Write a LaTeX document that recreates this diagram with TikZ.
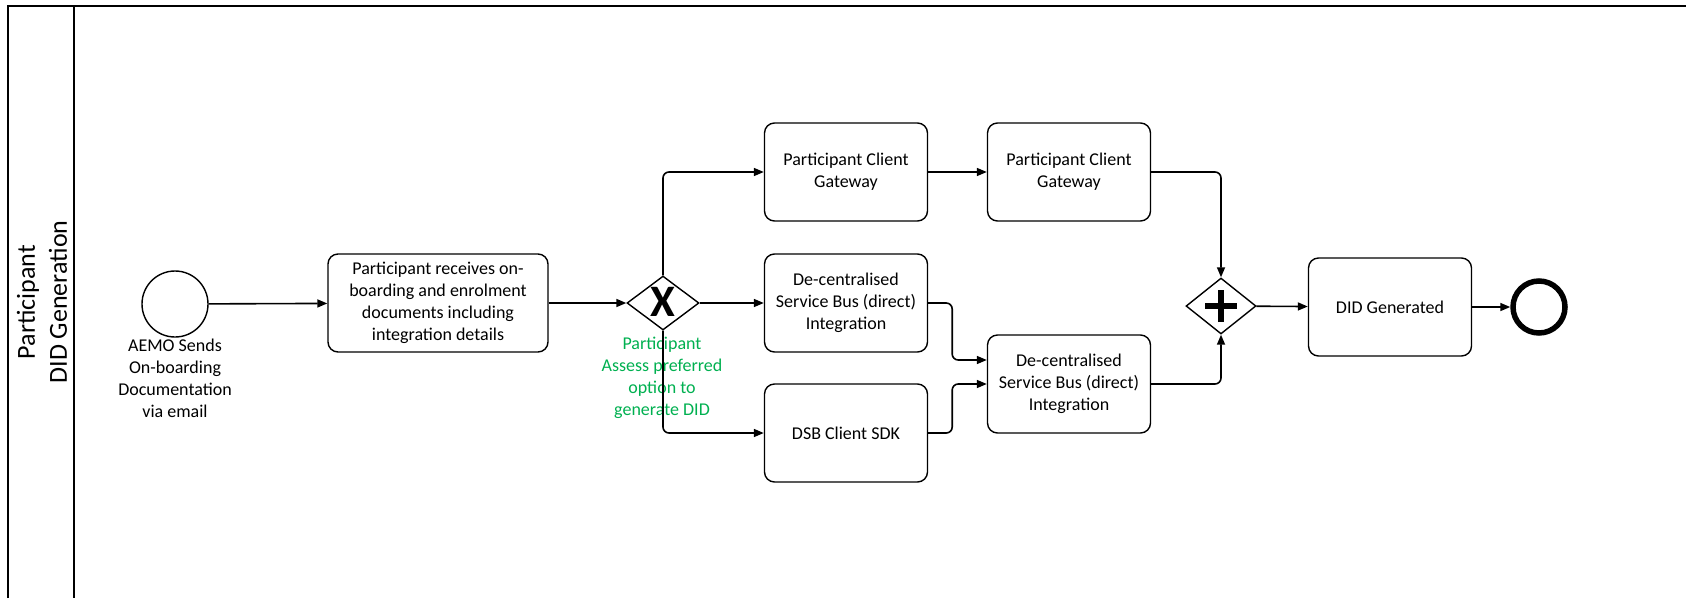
\documentclass[tikz,border=0pt]{standalone}
\usepackage{fontspec}
\setmainfont{Carlito}
\usetikzlibrary{shapes.geometric,arrows.meta}
\definecolor{notegreen}{RGB}{0,176,80}

\begin{document}
\begin{tikzpicture}[x=1pt, y=-1pt, >={Triangle[length=10pt,width=8pt]}, line width=1.6pt]
\tikzset{
  task/.style={
    draw, rectangle, rounded corners=10pt, line width=1.4pt,
    minimum width=163pt, minimum height=98pt,
    align=center, font=\fontsize{18}{22}\selectfont
  },
  gate/.style={
    draw, diamond, line width=1.4pt, inner sep=0pt,
    minimum width=72pt, minimum height=54pt
  },
  flow/.style={->, rounded corners=6pt}
}
\useasboundingbox (0,0) rectangle (1686,598);

% Pool and lane
\draw[line width=2pt] (8,598) -- (8,6) -- (1686,6);
\draw[line width=2pt] (74,6) -- (74,598);
\node[rotate=90, align=center, font=\fontsize{26}{32}\selectfont] (lane) at (42,302) {Participant\\DID Generation};

% Nodes
\node[draw, circle, line width=1.4pt, minimum size=66pt] (start) at (175,304) {};
\node[align=center, font=\fontsize{18}{22}\selectfont] (startlbl) at (175,378) {AEMO Sends\\On-boarding\\Documentation\\via email};
\node[task, minimum width=220pt] (recv) at (438,303) {Participant receives on-\\boarding and enrolment\\documents including\\integration details};
\node[gate] (xor) at (663,303) {};
\node[font=\fontsize{45}{45}\bfseries\selectfont, inner sep=0pt] at ([yshift=1pt]xor.center) {X};
\node[align=center, text=notegreen, font=\fontsize{18}{22}\selectfont] (xorlbl) at (662,378) {Participant\\Assess preferred\\option to\\generate DID};

\node[task] (gw1) at (846,172) {Participant Client\\Gateway};
\node[task] (gw2) at (1069,172) {Participant Client\\Gateway};
\node[task] (dsb1) at (846,303) {De-centralised\\Service Bus (direct)\\Integration};
\node[task] (sdk) at (846,433) {DSB Client SDK};
\node[task] (dsb2) at (1069,384) {De-centralised\\Service Bus (direct)\\Integration};

\node[gate, minimum width=70pt, minimum height=56pt] (and) at (1221,306) {};
\draw[line width=5.5pt] ([xshift=-16pt]and.center) -- ([xshift=16pt]and.center)
  ([yshift=-16pt]and.center) -- ([yshift=16pt]and.center);
\node[task] (did) at (1390,307) {DID Generated};
\node[draw, circle, line width=5.5pt, minimum size=52pt] (end) at (1539,307) {};

% Sequence flows
\draw[flow] (start) -- (recv);
\draw[flow] (recv) -- (xor);
\draw[flow] (xor.north) |- (gw1);
\draw[flow] (xor) -- (dsb1);
\draw[flow] (xor.south) |- (sdk);
\draw[flow] (gw1) -- (gw2);
\draw[flow] (gw2) -| (and.north);
\draw[flow] (dsb1.east) -- ++(24,0) |- ([yshift=24pt]dsb2.west);
\draw[flow] (sdk.east) -- ++(24,0) |- (dsb2.west);
\draw[flow] (dsb2) -| (and.south);
\draw[flow] (and) -- (did);
\draw[flow] (did) -- (end);

\end{tikzpicture}
\end{document}
